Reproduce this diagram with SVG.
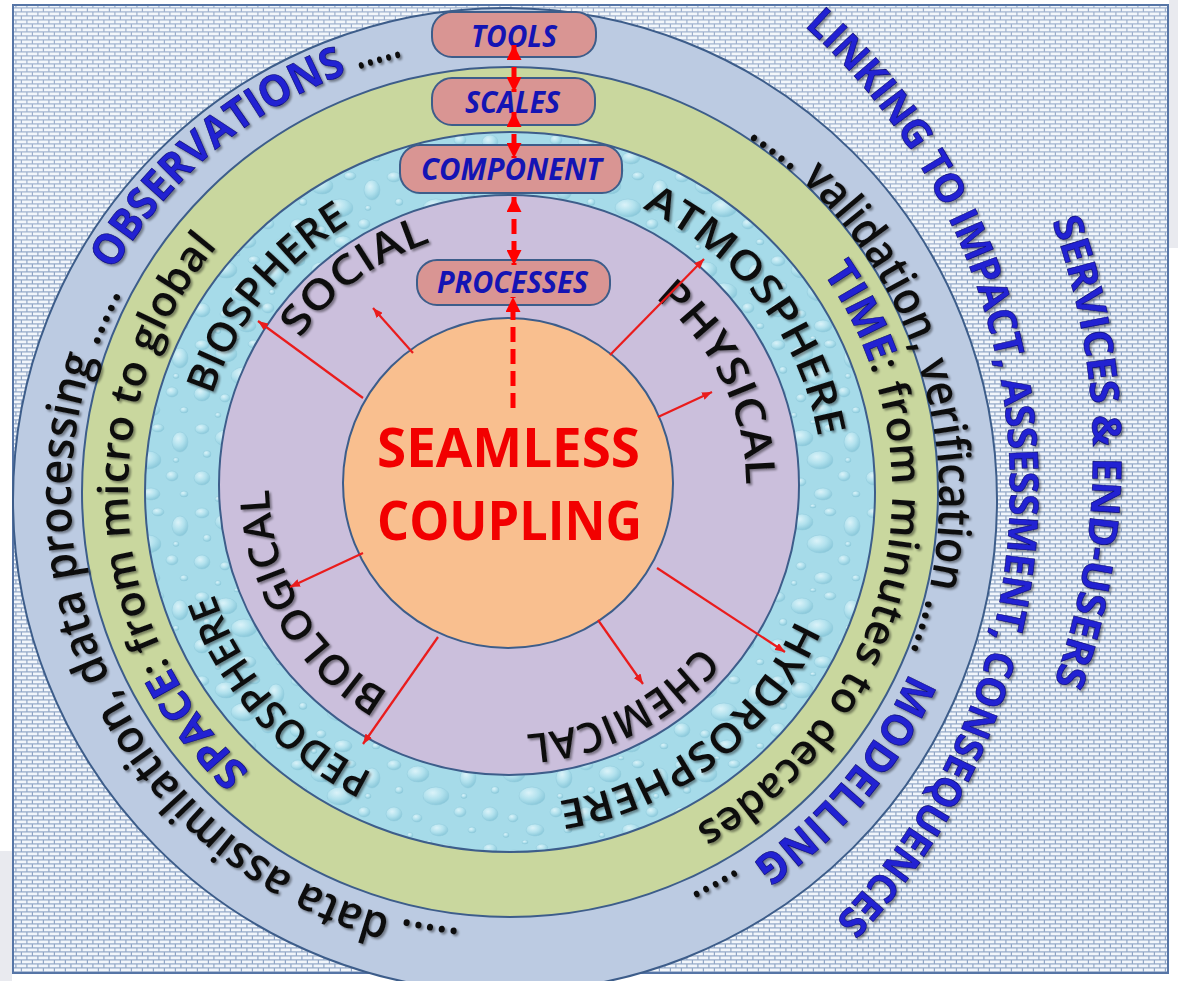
<svg xmlns="http://www.w3.org/2000/svg" width="1178" height="981" viewBox="0 0 1178 981">
<style>
.ring{stroke:#3d5d8a;stroke-width:2}
.lbl{font-family:"Open Sans","Liberation Sans",sans-serif;font-weight:600;fill:#111;filter:url(#sh)}
.sm{font-family:"Open Sans","Liberation Sans",sans-serif;font-weight:600;fill:#111;filter:url(#sh)}
.blue{font-family:"Open Sans","Liberation Sans",sans-serif;font-weight:700;fill:#2020d2;stroke:#0b0b70;stroke-width:0.6;filter:url(#sh)}
.bt{fill:#2020d2;stroke:#0b0b70;stroke-width:0.6;font-weight:700}
.box{fill:#d99593;stroke:#3d5d8a;stroke-width:2}
.boxt{font-family:"Open Sans","Liberation Sans",sans-serif;font-weight:700;font-style:italic;font-size:30px;fill:#1414b4}
.dash{stroke:#f00;stroke-width:5;stroke-dasharray:15 7;fill:none}
.thin{stroke:#ea1c1c;stroke-width:2.2;fill:none;marker-end:url(#ah)}
.core{font-family:"Open Sans","Liberation Sans",sans-serif;font-weight:700;font-size:54px;fill:#f20000}
</style>
<defs>
<pattern id="brick" width="11" height="8" patternUnits="userSpaceOnUse">
<rect width="11" height="8" fill="#91a6c6"/>
<rect x="0" y="0.5" width="9.8" height="2.8" fill="#f2f6fb"/>
<rect x="-5.5" y="4.5" width="9.8" height="2.8" fill="#f2f6fb"/>
<rect x="5.5" y="4.5" width="9.8" height="2.8" fill="#f2f6fb"/>
</pattern>
<radialGradient id="drop" cx="0.38" cy="0.32" r="0.75">
<stop offset="0" stop-color="#e4f7fc"/>
<stop offset="0.5" stop-color="#b3e2ee"/>
<stop offset="1" stop-color="#7cbfd3"/>
</radialGradient>
<pattern id="water" width="96" height="84" patternUnits="userSpaceOnUse">
<rect width="96" height="84" fill="#a6dbe9"/>
<g fill="url(#drop)" stroke="#8cc6d8" stroke-width="0.5" opacity="0.85">
<ellipse cx="10" cy="9" rx="7" ry="5"/>
<ellipse cx="34" cy="18" rx="11" ry="8"/>
<ellipse cx="62" cy="8" rx="6" ry="4"/>
<ellipse cx="84" cy="22" rx="8" ry="10"/>
<ellipse cx="15" cy="34" rx="4" ry="3.5"/>
<ellipse cx="52" cy="40" rx="13" ry="9"/>
<ellipse cx="10" cy="58" rx="8" ry="7"/>
<ellipse cx="33" cy="62" rx="5" ry="4"/>
<ellipse cx="76" cy="56" rx="6" ry="5"/>
<ellipse cx="88" cy="74" rx="4" ry="3"/>
<ellipse cx="55" cy="74" rx="9" ry="6"/>
<ellipse cx="26" cy="79" rx="3" ry="2.5"/>
<ellipse cx="80" cy="40" rx="3" ry="2.5"/>
<ellipse cx="45" cy="2" rx="3" ry="2"/>
</g>
</pattern>
<filter id="sh" x="-10%" y="-10%" width="120%" height="120%">
<feDropShadow dx="2" dy="2" stdDeviation="0.8" flood-color="#000" flood-opacity="0.4"/>
</filter>
<marker id="ahb" viewBox="0 0 14 14" markerWidth="15" markerHeight="15" refX="14" refY="7" orient="auto-start-reverse" markerUnits="userSpaceOnUse">
<path d="M0,0 L14,7 L0,14 z" fill="#f00"/>
</marker>
<marker id="ah" viewBox="0 0 10 8" markerWidth="10" markerHeight="8" refX="10" refY="4" orient="auto" markerUnits="userSpaceOnUse">
<path d="M0,0 L10,4 L0,8 z" fill="#ea1c1c"/>
</marker>
<!-- text arcs, all drawn clockwise so letter tops face outward -->
<path id="p1" d="M459.6,928.6 A434,434 0 0 1 137,267"/>
<path id="p2" d="M113.6,271 A452,452 0 0 1 426.5,51.9"/>
<path id="p2b" d="M357.8,69.6 A452,452 0 0 1 465.6,46.7"/>
<path id="p3" d="M747.7,137.2 A434,434 0 0 1 880.9,714"/>
<path id="p4" d="M909.4,672.9 A441,441 0 0 1 655.8,911.4"/>
<path id="p4b" d="M737.1,868.4 A438,438 0 0 1 640.4,913.6"/>
<path id="p5" d="M249.5,771.4 A382,382 0 0 1 254.4,208.1"/>
<path id="p6" d="M822.9,272.9 A382,382 0 0 1 640.7,851"/>
<path id="p7" d="M212.3,395.3 A313,313 0 0 1 402.9,197.9"/>
<path id="p8" d="M642.3,208.3 A313,313 0 0 1 823,492"/>
<path id="p9" d="M795.9,619.3 A313,313 0 0 1 499.1,804.8"/>
<path id="p10" d="M372.8,773.3 A313,313 0 0 1 200,535.6"/>
<path id="p11" d="M300.1,338.7 A255,255 0 0 1 473.5,232.5"/>
<path id="p12" d="M654.9,298.2 A237,237 0 0 1 742.4,526.2"/>
<path id="p13" d="M700.5,645.7 A250,250 0 0 1 487.2,734"/>
<path id="p14" d="M389,692.8 A240,240 0 0 1 271.3,451.6"/>
<path id="p15" d="M804.2,25.8 A622,622 0 0 1 787.8,964.5"/>
<path id="p16" d="M1051.8,221.4 A683,683 0 0 1 1029,743.6"/>
</defs>

<!-- page and brick backdrop -->
<g id="backdrop">
<rect width="1178" height="981" fill="#ffffff"/>
<rect x="1169" y="0" width="9" height="248" fill="#e9eaef"/>
<rect x="0" y="851" width="12" height="130" fill="#e9eaef"/>
<rect x="13" y="5" width="1155" height="968" fill="url(#brick)" stroke="#5675a6" stroke-width="2"/>
<rect x="14" y="6" width="1153" height="241" fill="#ffffff" opacity="0.12"/>
</g>

<!-- concentric bands -->
<g id="ring-outer"><circle class="ring" cx="505" cy="500" r="492" fill="#bccbe2"/></g>
<g id="ring-green"><ellipse class="ring" cx="510" cy="492" rx="428" ry="425" fill="#c9d79e"/></g>
<g id="ring-water"><ellipse class="ring" cx="510" cy="492" rx="365" ry="360" fill="url(#water)"/></g>
<g id="ring-purple"><circle class="ring" cx="509" cy="485" r="290" fill="#cbbfdc"/></g>
<g id="core">
<circle class="ring" cx="508" cy="483" r="165" fill="#f9bf8f"/>
<text class="core" x="377" y="467" textLength="263" lengthAdjust="spacingAndGlyphs">SEAMLESS</text>
<text class="core" x="377" y="540" textLength="265" lengthAdjust="spacingAndGlyphs">COUPLING</text>
</g>

<!-- outer band texts -->
<g id="outer-labels">
<text class="sm" font-size="46"><textPath href="#p1" textLength="848" lengthAdjust="spacingAndGlyphs">..... data assimilation, data processing .....</textPath></text>
<text class="blue" font-size="43"><textPath href="#p2" textLength="312" lengthAdjust="spacingAndGlyphs">OBSERVATIONS</textPath></text>
<text class="sm" font-size="46"><textPath href="#p2b" textLength="47" lengthAdjust="spacingAndGlyphs">.....</textPath></text>
<text class="sm" font-size="46"><textPath href="#p3" textLength="583" lengthAdjust="spacingAndGlyphs">..... validation, verification .....</textPath></text>
<text class="blue" font-size="43"><textPath href="#p4" textLength="250" lengthAdjust="spacingAndGlyphs">MODELLING</textPath></text>
<text class="sm" font-size="46"><textPath href="#p4b" textLength="53" lengthAdjust="spacingAndGlyphs">.....</textPath></text>
</g>

<!-- green band texts -->
<g id="green-labels">
<text class="sm" font-size="42"><textPath href="#p5" textLength="580" lengthAdjust="spacingAndGlyphs"><tspan class="bt">SPACE</tspan>: from micro to global</textPath></text>
<text class="sm" font-size="42"><textPath href="#p6" textLength="640" lengthAdjust="spacingAndGlyphs"><tspan class="bt">TIME</tspan>: from minutes to decades</textPath></text>
</g>

<!-- spheres -->
<g id="node-biosphere"><text class="lbl" font-size="40"><textPath href="#p7" textLength="225" lengthAdjust="spacingAndGlyphs">BIOSPHERE</textPath></text></g>
<g id="node-atmosphere"><text class="lbl" font-size="40"><textPath href="#p8" textLength="300" lengthAdjust="spacingAndGlyphs">ATMOSPHERE</textPath></text></g>
<g id="node-hydrosphere"><text class="lbl" font-size="40"><textPath href="#p9" textLength="312" lengthAdjust="spacingAndGlyphs">HYDROSPHERE</textPath></text></g>
<g id="node-pedosphere"><text class="lbl" font-size="40"><textPath href="#p10" textLength="246" lengthAdjust="spacingAndGlyphs">PEDOSPHERE</textPath></text></g>

<!-- process kinds -->
<g id="node-social"><text class="lbl" font-size="41"><textPath href="#p11" textLength="165" lengthAdjust="spacingAndGlyphs">SOCIAL</textPath></text></g>
<g id="node-physical"><text class="lbl" font-size="41"><textPath href="#p12" textLength="215" lengthAdjust="spacingAndGlyphs">PHYSICAL</textPath></text></g>
<g id="node-chemical"><text class="lbl" font-size="41"><textPath href="#p13" textLength="201" lengthAdjust="spacingAndGlyphs">CHEMICAL</textPath></text></g>
<g id="node-biological"><text class="lbl" font-size="41"><textPath href="#p14" textLength="247" lengthAdjust="spacingAndGlyphs">BIOLOGICAL</textPath></text></g>

<!-- outside arcs -->
<g id="node-linking"><text class="blue" font-size="40"><textPath href="#p15" textLength="999" lengthAdjust="spacingAndGlyphs">LINKING TO IMPACT, ASSESSMENT, CONSEQUENCES</textPath></text></g>
<g id="node-services"><text class="blue" font-size="40"><textPath href="#p16" textLength="471" lengthAdjust="spacingAndGlyphs">SERVICES &amp; END-USERS</textPath></text></g>

<!-- stacked boxes -->
<g id="node-tools"><rect class="box" x="432" y="12" width="164" height="45" rx="20"/><text class="boxt" x="471" y="47" textLength="86" lengthAdjust="spacingAndGlyphs">TOOLS</text></g>
<g id="node-scales"><rect class="box" x="432" y="78" width="163" height="47" rx="20"/><text class="boxt" x="465" y="113" textLength="95" lengthAdjust="spacingAndGlyphs">SCALES</text></g>
<g id="node-component"><rect class="box" x="400" y="145" width="222" height="48" rx="20"/><text class="boxt" x="421" y="180" textLength="181" lengthAdjust="spacingAndGlyphs">COMPONENT</text></g>
<g id="node-processes"><rect class="box" x="417" y="260" width="193" height="45" rx="20"/><text class="boxt" x="437" y="293" textLength="151" lengthAdjust="spacingAndGlyphs">PROCESSES</text></g>

<!-- connectors -->
<g id="connectors">
<line class="dash" x1="514" y1="45" x2="514" y2="92" marker-start="url(#ahb)" marker-end="url(#ahb)"/>
<line class="dash" x1="514" y1="112" x2="514" y2="158" marker-start="url(#ahb)" marker-end="url(#ahb)"/>
<line class="dash" x1="514" y1="197" x2="514" y2="265" marker-start="url(#ahb)" marker-end="url(#ahb)"/>
<line class="dash" x1="513" y1="408" x2="513" y2="297" marker-end="url(#ahb)"/>
<line class="thin" x1="413" y1="353" x2="373" y2="308"/>
<line class="thin" x1="363" y1="398" x2="258" y2="321"/>
<line class="thin" x1="610" y1="355" x2="704" y2="259"/>
<line class="thin" x1="658" y1="417" x2="712" y2="392"/>
<line class="thin" x1="363" y1="553" x2="290" y2="587"/>
<line class="thin" x1="438" y1="637" x2="363" y2="744"/>
<line class="thin" x1="598" y1="620" x2="643" y2="684"/>
<line class="thin" x1="657" y1="568" x2="785" y2="652"/>
</g>
</svg>
